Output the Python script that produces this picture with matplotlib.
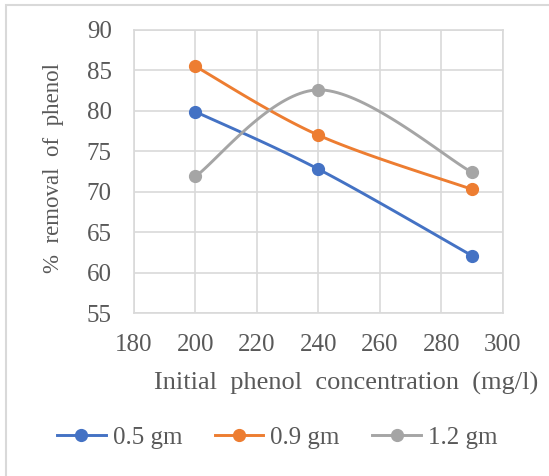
import numpy as np
import matplotlib
matplotlib.use("Agg")
import matplotlib.pyplot as plt
from matplotlib.patches import Rectangle

plt.rcParams['font.family'] = ['Liberation Serif', 'DejaVu Serif']

# data
conc = [200, 240, 290]
series_names = ['0.5 gm', '0.9 gm', '1.2 gm']
removal_05 = [79.9, 72.8, 62.1]
removal_09 = [85.5, 77.0, 70.3]
removal_12 = [71.9, 82.6, 72.4]
colors = ['#4472C4', '#ED7D31', '#A5A5A5']

txt = '#595959'
grid_c = '#D9D9D9'


def smooth(xs, ys, n=40):
    # excel-like smoothed line (catmull-rom as bezier segments)
    xs = np.asarray(xs, float)
    ys = np.asarray(ys, float)
    px = np.concatenate([[xs[0]], xs, [xs[-1]]])
    py = np.concatenate([[ys[0]], ys, [ys[-1]]])
    ox, oy = [], []
    t = np.linspace(0, 1, n)
    for i in range(1, len(px) - 2):
        p0 = np.array([px[i], py[i]])
        p3 = np.array([px[i + 1], py[i + 1]])
        c1 = p0 + (np.array([px[i + 1], py[i + 1]]) - np.array([px[i - 1], py[i - 1]])) / 6
        c2 = p3 - (np.array([px[i + 2], py[i + 2]]) - np.array([px[i], py[i]])) / 6
        b = ((1 - t) ** 3)[:, None] * p0 + (3 * (1 - t) ** 2 * t)[:, None] * c1 \
            + (3 * (1 - t) * t ** 2)[:, None] * c2 + (t ** 3)[:, None] * p3
        ox.extend(b[:, 0])
        oy.extend(b[:, 1])
    return ox, oy


fig = plt.figure(figsize=(5.49, 4.76), dpi=100)
ax = fig.add_axes([0.244, 0.342, 0.672, 0.595])

for name, vals, c in zip(series_names, [removal_05, removal_09, removal_12], colors):
    sx, sy = smooth(conc, vals)
    ax.plot(sx, sy, color=c, lw=2.1, solid_capstyle='round')
    ax.plot(conc, vals, 'o', color=c, ms=8.5, mec=c)
    ax.plot([], [], color=c, lw=2.1, marker='o', ms=8.5, label=name)

ax.set_xlim(180, 300)
ax.set_ylim(55, 90)
ax.set_xticks(range(180, 301, 20))
ax.set_yticks(range(55, 91, 5))
ax.grid(True, color=grid_c, lw=1.2)
ax.set_axisbelow(True)
for s in ax.spines.values():
    s.set_color(grid_c)
    s.set_linewidth(1.2)
ax.tick_params(length=0, labelsize=18, labelcolor=txt)
ax.tick_params(axis='x', pad=15)
ax.tick_params(axis='y', pad=16)

fig.text(0.098, 0.647, '%  removal  of  phenol', rotation=90, ha='center', va='center',
         fontsize=16.5, color=txt)
fig.text(0.630, 0.195, 'Initial  phenol  concentration  (mg/l)', ha='center', va='center',
         fontsize=19, color=txt)

fig.legend(loc='center', bbox_to_anchor=(0.505, 0.08), ncol=3, frameon=False,
           fontsize=18, labelcolor=txt, handlelength=1.95, handletextpad=0.28,
           columnspacing=1.3)

fig.patches.append(Rectangle((6 / 549, -0.1), 1.2, 1 - 5 / 476 + 0.1,
                             transform=fig.transFigure, fill=False,
                             edgecolor=grid_c, lw=1.5))

fig.savefig('out.png', dpi=100)
